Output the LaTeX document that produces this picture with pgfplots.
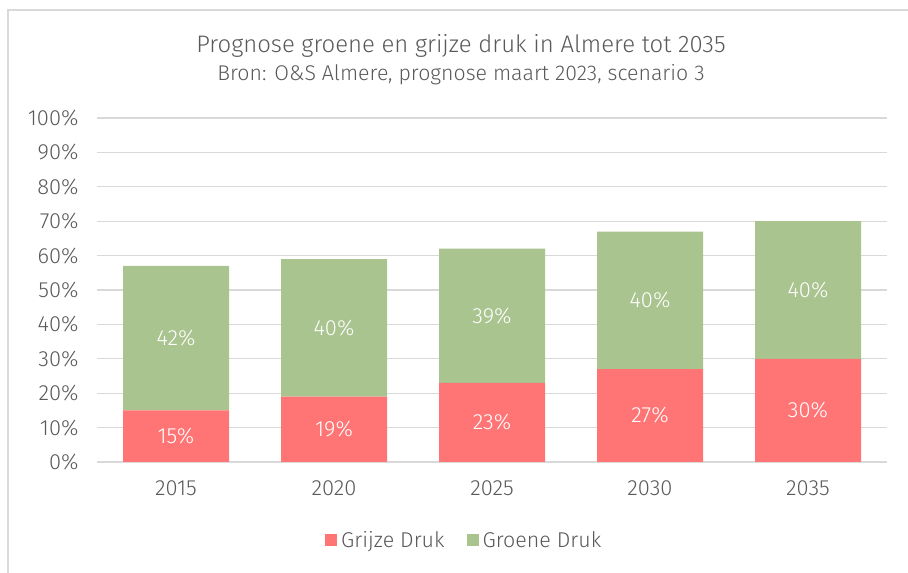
\documentclass[border=0pt]{standalone}
\usepackage{fontspec}
\setmainfont{Fira Sans Light}
\usepackage{pgfplots}
\pgfplotsset{compat=1.18}
\definecolor{grijs}{HTML}{FF7575}
\definecolor{groen}{HTML}{A9C48F}
\definecolor{txt}{HTML}{595959}
\definecolor{rooster}{HTML}{D9D9D9}

\pgfplotstableread{
x grijs groen
0 15 42
1 19 40
2 23 39
3 27 40
4 30 40
}\druk

% label positions: middle of each segment
\pgfplotstableread{
x mid lab
0 7.5 15
1 9.5 19
2 11.5 23
3 13.5 27
4 15 30
0 36 42
1 39 40
2 42.5 39
3 47 40
4 50 40
}\labels

\pgfplotsset{
  frame/.style={
    at={(97bp,111bp)}, anchor=south west,
    scale only axis, width=790bp, height=344bp,
    xmin=-0.5, xmax=4.5, ymin=0, ymax=100,
  },
}

\begin{document}
\begin{tikzpicture}
\path[use as bounding box] (0bp,0bp) rectangle (908bp,573bp);
\draw[rooster, line width=1.5bp] (8bp,0bp) -- (8bp,563bp) -- (908bp,563bp);
\node[txt, font=\fontsize{24}{27}\selectfont] at (461bp,527bp) {Prognose groene en grijze druk in Almere tot 2035};
\node[txt, font=\fontsize{21.4}{24}\selectfont] at (461bp,498bp) {Bron: O\&S Almere, prognose maart 2023, scenario 3};
\begin{axis}[
  frame,
  ybar stacked, bar width=106bp,
  xtick=data, xticklabels={2015,2020,2025,2030,2035},
  ytick={0,10,...,100},
  yticklabel={\pgfmathprintnumber{\tick}\%},
  /pgf/number format/assume math mode=true,
  axis line style={draw=none}, tick style={draw=none},
  ymajorgrids, grid style={rooster, line width=1.3bp},
  ticklabel style={txt, font=\fontsize{22}{25}\selectfont},
  yticklabel style={xshift=-15bp},
  xticklabel style={yshift=-15bp},
  legend columns=2,
  legend style={draw=none, at={(0.466,-0.227)}, anchor=center,
    font=\fontsize{21.5}{24}\selectfont, text=txt,
    nodes={inner xsep=4bp},
    /tikz/every even column/.append style={column sep=18bp}},
  legend image code/.code={\fill[#1] (0bp,-6bp) rectangle (12bp,6bp);},
]
\addplot[fill=grijs, draw=none] table[x=x, y=grijs] {\druk};
\addplot[fill=groen, draw=none] table[x=x, y=groen] {\druk};
\legend{Grijze Druk, Groene Druk}
\end{axis}
\begin{axis}[frame, hide axis]
\addplot[only marks, mark=none, point meta=explicit,
  /pgf/number format/assume math mode=true,
  nodes near coords={\pgfmathprintnumber{\pgfplotspointmeta}\%},
  every node near coord/.append style={white, anchor=center,
    font=\fontsize{22}{25}\selectfont}]
  table[x=x, y=mid, meta=lab] {\labels};
\end{axis}
\end{tikzpicture}
\end{document}
